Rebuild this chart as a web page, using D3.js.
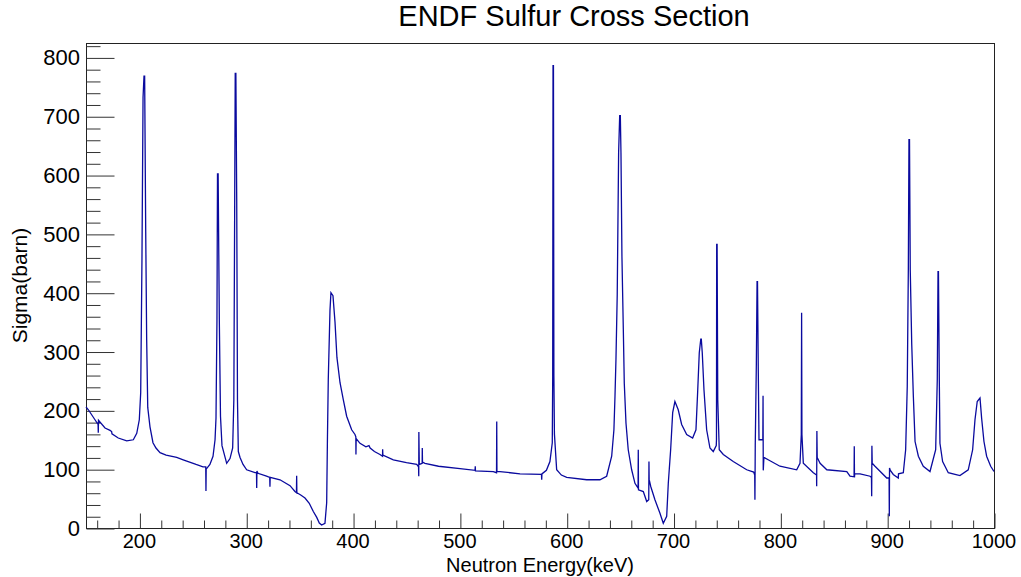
<!DOCTYPE html>
<html>
<head>
<meta charset="utf-8">
<script src="https://cdn.jsdelivr.net/npm/d3@7"></script>
<style>
  body { margin: 0; background: #fff; }
  svg { display: block; font-family: "Liberation Sans", Arial, sans-serif; }
</style>
</head>
<body>
<svg id="chart" width="1021" height="577"></svg>
<script>
// cross section (keV, barn)
let energyKeV = [
  150.0, 152.2, 158.4, 161.3, 161.5, 161.7, 167.8, 172.5, 174.0, 174.3, 180.2, 188.1, 194.3, 197.5, 199.9,
  201.2, 202.4, 203.4, 204.3, 204.9, 205.9, 206.8, 207.8, 209.9, 212.7, 215.5, 219.3, 225.0, 234.9, 241.0,
  247.0, 253.0, 259.5,
  262.1, 262.3, 262.5, 266.0, 268.9, 270.8, 271.7, 272.6, 273.1, 273.7, 274.8, 275.9, 277.3, 281.7, 284.8,
  287.3, 288.4, 289.2, 289.7, 290.3, 291.1, 291.8, 292.6, 294.2, 297.0, 300.4, 308.2, 309.6, 309.8, 310.0, 311.0,
  319.0, 322.0, 322.2, 322.4, 331.6, 341.0, 345.6, 347.0, 347.2, 347.4, 351.0, 355.0, 359.0, 362.8, 366.0,
  368.4, 370.6, 373.7,
  375.3, 376.0, 376.8, 378.4, 379.3, 381.2, 383.1, 384.9, 387.8, 390.9, 394.0, 398.7, 401.8, 402.6, 402.7,
  402.9, 406.5, 412.0, 414.9, 416.0, 420.0, 425.2, 427.6, 427.7, 427.9, 437.7, 450.0, 459.6, 461.3, 461.5,
  461.6, 462.0, 464.7, 464.8, 465.0, 467.3, 480.0, 500.1, 514.2, 514.4, 514.6, 531.3, 534.3, 534.5, 534.7,
  537.5, 556.3, 576.4, 576.6, 576.8, 581.0, 584.3, 586.5, 586.9, 587.2, 587.6, 588.0, 588.5, 590.6, 595.0, 600.0,
  618.7, 631.1, 637.4, 642.1, 644.2, 645.2, 646.1, 647.3, 648.6, 649.6, 650.2, 650.8, 651.7, 653.0, 653.9,
  655.5, 657.6, 660.8, 663.9, 666.8, 667.0, 667.2, 671.7, 674.9, 676.8, 677.0, 677.2, 677.5, 678.6, 682.6,
  687.3, 690.4, 693.6, 695.1, 697.3, 699.2, 701.3, 704.4, 707.6, 712.3, 717.9, 721.0, 722.6, 724.1, 725.5,
  726.0, 726.9, 728.5, 731.0, 734.1, 737.2, 740.0, 740.2, 740.4, 740.8, 741.4, 742.8, 746.6, 755.9, 768.5,
  775.0, 776.0, 776.2, 776.5, 777.5, 778.2, 778.6, 779.3, 780.0, 783.6, 783.8, 784.0, 784.6, 788.6, 799.6,
  815.3, 818.4, 819.6, 819.9, 820.2, 821.5, 830.9, 833.9, 834.0, 834.2, 834.5, 837.2, 843.5, 862.2, 865.2,
  869.0, 869.2, 869.4, 869.6, 874.6, 884.0, 885.3, 885.5, 885.7, 886.0, 888.6, 899.6, 901.8, 902.0, 902.2,
  903.0, 905.7, 910.4, 910.6, 915.1, 917.3, 918.8, 919.8, 920.4, 920.9, 921.6, 923.0, 924.5, 926.1, 929.2,
  933.8, 940.1, 945.4, 946.9, 947.6, 948.0, 948.8, 949.4, 951.9, 957.2, 968.1, 975.9, 980.0, 982.2, 984.3,
  986.9, 988.4, 990.6, 993.1, 996.9, 1000.0
];
let sigmaBarn = [
  206, 201, 184, 176, 162, 183, 170, 166, 164, 160, 153, 148, 150, 161, 184,
  230, 459, 732, 768, 768, 504, 320, 205, 172, 145, 136, 128, 124, 120, 116,
  112, 108, 104,
  104, 63, 100, 108, 122, 150, 187, 354, 602, 602, 354, 190, 140, 110, 118,
  136, 218, 555, 773, 773, 555, 218, 130, 120, 108, 99, 94, 94, 68, 97, 93,
  88, 86, 70, 86, 82, 72, 62, 60, 89, 60, 56, 51, 42, 28, 18,
  8.5, 5, 8,
  43, 150, 252, 370, 400, 395, 350, 290, 247, 218, 190, 167, 159, 155, 125,
  152, 144, 138, 140, 136, 130, 125, 122, 134, 124, 116, 111, 108, 104, 88,
  163, 108, 110, 136, 112, 110, 105, 101, 98, 105, 97, 96, 94, 181, 96,
  96, 92, 91, 82, 92, 98, 113, 145, 258, 786, 786, 258, 160, 99, 90, 86,
  82, 82, 88, 122, 167, 224, 286, 397, 638, 701, 701, 638, 462, 337, 246,
  178, 133, 99, 76, 68, 133, 65, 62, 45, 48, 113, 80, 80, 71, 48,
  25, 8, 20, 76, 133, 196, 215, 201, 176, 159, 153, 167, 232, 298, 321,
  321, 298, 235, 167, 136, 130, 140, 150, 482, 482, 218, 133, 125, 113, 99,
  95, 90, 48, 140, 275, 419, 419, 275, 150, 150, 225, 98, 120, 116, 105,
  99, 110, 159, 366, 159, 110, 94, 90, 71, 165, 120, 110, 99, 96, 88,
  87, 139, 86, 92, 92, 88, 86, 54, 140, 110, 105, 85, 85, 20, 102,
  98, 91, 85, 92, 94, 133, 241, 439, 660, 660, 439, 312, 224, 147, 122,
  105, 96, 133, 252, 436, 436, 252, 144, 113, 94, 89, 99, 133, 184, 215,
  221, 187, 147, 122, 105, 96
];
let xTicks = [200, 300, 400, 500, 600, 700, 800, 900, 1000];
let yTicks = [0, 100, 200, 300, 400, 500, 600, 700, 800];

let svg = d3.select("#chart");
let frame = { left: 86, right: 994, top: 43, bottom: 528 };

let x = d3.scaleLinear().domain([150, 1000]).range([frame.left, frame.right]);
let y = d3.scaleLinear().domain([0, 824.5]).range([frame.bottom, frame.top]);

// frame
svg.append("rect")
    .attr("x", frame.left + 0.5)
    .attr("y", frame.top + 0.5)
    .attr("width", frame.right - frame.left)
    .attr("height", frame.bottom - frame.top)
    .attr("fill", "none")
    .attr("stroke", "#222")
    .attr("stroke-width", 1);

// y axis: inward ticks, minor every 20
let yAxis = d3.axisRight(y)
    .tickValues(d3.range(0, 821, 20))
    .tickSize(0)
    .tickFormat("");
let gy = svg.append("g").attr("transform", "translate(" + (frame.left + 0.5) + ",0.5)");
gy.call(yAxis);
gy.select(".domain").remove();
gy.selectAll(".tick line")
    .attr("x2", function (d) { return d % 100 === 0 ? 28 : 14; })
    .attr("stroke", "#333");

svg.append("g").selectAll("text")
    .data(yTicks)
    .enter().append("text")
    .attr("x", frame.left - 6)
    .attr("y", function (d) { return y(d) + 8; })
    .attr("text-anchor", "end")
    .attr("font-size", 22)
    .attr("fill", "#000")
    .text(function (d) { return d; });

// x axis: inward ticks, minor every 20
let xAxis = d3.axisTop(x)
    .tickValues(d3.range(160, 1001, 20))
    .tickSize(0)
    .tickFormat("");
let gx = svg.append("g").attr("transform", "translate(0.5," + (frame.bottom + 0.5) + ")");
gx.call(xAxis);
gx.select(".domain").remove();
gx.selectAll(".tick line")
    .attr("y2", function (d) { return d % 100 === 0 ? -15 : -8; })
    .attr("stroke", "#333");

svg.append("g").selectAll("text")
    .data(xTicks)
    .enter().append("text")
    .attr("x", function (d) { return x(d); })
    .attr("y", frame.bottom + 20)
    .attr("text-anchor", "middle")
    .attr("font-size", 20)
    .attr("fill", "#000")
    .text(function (d) { return d; });

// the curve
let pts = energyKeV.map(function (e, i) { return [e, sigmaBarn[i]]; });
let line = d3.line()
    .x(function (d) { return x(d[0]); })
    .y(function (d) { return y(d[1]); });

svg.append("path")
    .datum(pts)
    .attr("d", line)
    .attr("fill", "none")
    .attr("stroke", "#0a0a9e")
    .attr("stroke-width", 1.3)
    .attr("stroke-linejoin", "miter");

// titles
svg.append("text")
    .attr("x", 574)
    .attr("y", 26)
    .attr("text-anchor", "middle")
    .attr("font-size", 29)
    .attr("fill", "#000")
    .text("ENDF Sulfur Cross Section");

svg.append("text")
    .attr("x", (frame.left + frame.right) / 2)
    .attr("y", 572)
    .attr("text-anchor", "middle")
    .attr("font-size", 20)
    .attr("fill", "#000")
    .text("Neutron Energy(keV)");

svg.append("text")
    .attr("transform", "translate(27," + ((frame.top + frame.bottom) / 2) + ") rotate(-90)")
    .attr("text-anchor", "middle")
    .attr("font-size", 21)
    .attr("fill", "#000")
    .text("Sigma(barn)");
</script>
</body>
</html>
